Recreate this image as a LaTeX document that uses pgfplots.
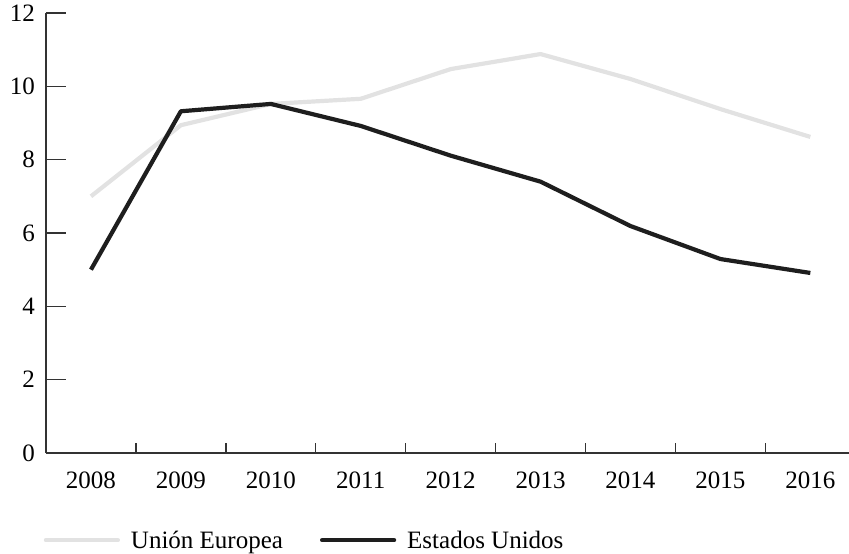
\documentclass[border=0pt]{standalone}
\usepackage{pgfplots}
\pgfplotsset{compat=1.18}
\usepackage{fontspec}
\setmainfont{Liberation Serif}
\definecolor{ueGray}{HTML}{E2E2E2}
\definecolor{usBlack}{HTML}{1E1E1E}
\definecolor{axGray}{HTML}{333333}
\begin{document}
\begin{tikzpicture}
\begin{axis}[
  scale only axis,
  width=803pt, height=440pt,
  xmin=-0.5, xmax=8.43,
  ymin=0, ymax=12,
  axis x line=bottom, axis y line=left,
  axis line style={-, draw=axGray, line width=1.4pt},
  tick align=inside,
  major tick length=20pt, minor tick length=10pt,
  ytick={0,2,...,12},
  xtick={0,...,8},
  xticklabels={2008,2009,2010,2011,2012,2013,2014,2015,2016},
  minor xtick={0.5,1.5,...,7.5},
  major x tick style={draw=none},
  minor x tick style={draw=axGray, line width=1.4pt},
  ytick style={draw=axGray, line width=1.4pt},
  /pgf/number format/assume math mode=true,
  ticklabel style={font=\fontsize{25}{29}\selectfont, text=black},
  yticklabel style={inner sep=0pt, xshift=-11pt},
  xticklabel style={inner sep=0pt, yshift=-19pt},
  legend style={draw=none, at={(-0.003,-0.198)}, anchor=west, inner sep=0pt,
    font=\fontsize{25}{29}\selectfont,
    legend cell align=left,
    nodes={inner xsep=0pt}},
  legend columns=2,
  /tikz/every odd column/.append style={column sep=11pt},
  /tikz/every even column/.append style={column sep=37pt},
  legend image code/.code={\draw[#1, line cap=round] (0pt,0pt) -- (72pt,0pt);},
]
\addplot[ueGray, line width=4.2pt, line join=round] coordinates {
 (0,7.0) (1,8.94) (2,9.52) (3,9.66) (4,10.47) (5,10.88) (6,10.2) (7,9.38) (8,8.62)};
\addlegendentry{Unión Europea}
\addplot[usBlack, line width=4.2pt, line join=round] coordinates {
 (0,5.0) (1,9.32) (2,9.52) (3,8.92) (4,8.11) (5,7.4) (6,6.19) (7,5.29) (8,4.91)};
\addlegendentry{Estados Unidos}
\end{axis}
\pgfresetboundingbox
\path (current axis.south west) ++(-46pt,-101pt) rectangle ++(849pt,554pt);
\end{tikzpicture}
\end{document}
